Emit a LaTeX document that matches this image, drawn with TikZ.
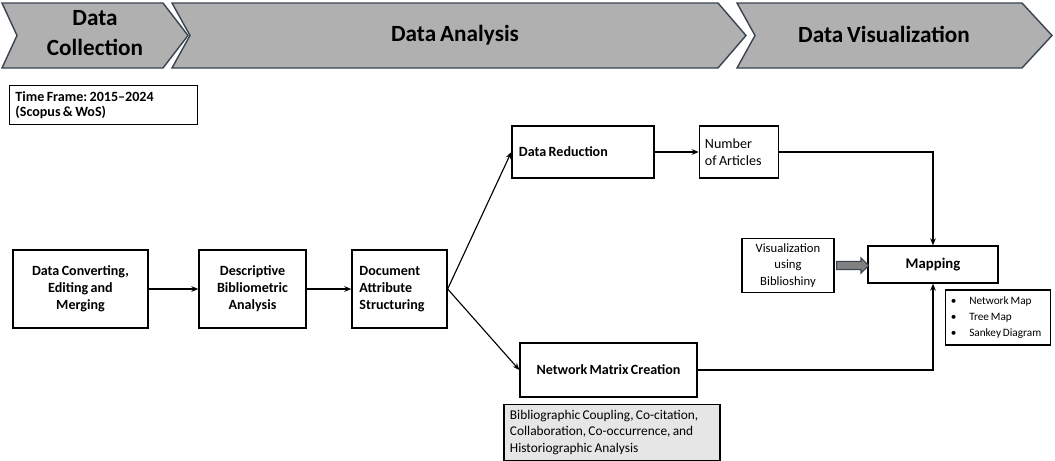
\documentclass[tikz,border=0pt]{standalone}
\usepackage{fontspec}
\setmainfont{Carlito}[WordSpace=0.75]
\usetikzlibrary{arrows.meta,shapes.arrows}
\definecolor{bannergray}{HTML}{B0B0B0}
\definecolor{bannerline}{HTML}{3A4450}
\definecolor{notegray}{HTML}{E6E6E6}
\tikzset{
  box/.style={draw, line width=0.9pt, align=center, inner sep=4pt},
  lbox/.style={box, align=left, execute at begin node={\frenchspacing\spaceskip=\fontdimen2\font\relax}},
  banner/.style={fill=bannergray, draw=bannerline, line width=1pt},
  flow/.style={line width=0.8pt, -{Stealth[length=5pt,width=4pt]}},
}
\begin{document}
\begin{tikzpicture}[x=0.025cm,y=-0.025cm]
\useasboundingbox (0,0) rectangle (1055,461);
% phase banners
\draw[banner] (2,3) -- (163,3) -- (188,35.5) -- (163,68) -- (2,68) -- (17,35.5) -- cycle;
\draw[banner] (172,3) -- (718,3) -- (746,35.5) -- (718,68) -- (172,68) -- (190,35.5) -- cycle;
\draw[banner] (737,3) -- (1022,3) -- (1052,35.5) -- (1022,68) -- (737,68) -- (755,35.5) -- cycle;
\node[align=center, font=\fontsize{16.5}{21}\selectfont\bfseries] (collect) at (95,33) {Data\\Collection};
\node[font=\fontsize{16.5}{20}\selectfont\bfseries] (analysis) at (455,35) {Data Analysis};
\node[font=\fontsize{16.5}{20}\selectfont\bfseries] (visual) at (884,34) {Data Visualization};
% notes
\node[lbox, minimum width=4.675cm, minimum height=0.85cm, text width=4.4cm,
  font=\fontsize{10}{11}\selectfont\bfseries] (time) at (103.5,105) {Time Frame: 2015--2024\\(Scopus \& WoS)};
% main flow
\node[box, minimum width=3.375cm, minimum height=1.95cm, font=\fontsize{10}{12}\selectfont\bfseries] (conv) at (80.5,289) {Data Converting,\\Editing and\\Merging};
\node[box, minimum width=2.675cm, minimum height=1.95cm, font=\fontsize{10}{12}\selectfont\bfseries] (desc) at (252.5,289) {Descriptive\\Bibliometric\\Analysis};
\node[lbox, minimum width=2.375cm, minimum height=1.95cm, text width=2.0cm, font=\fontsize{10}{12}\selectfont\bfseries] (doc) at (399.5,289) {Document\\Attribute\\Structuring};
\node[lbox, minimum width=3.55cm, minimum height=1.3cm, text width=3.2cm, font=\fontsize{10}{12}\selectfont\bfseries] (red) at (583,152) {Data Reduction};
\node[lbox, minimum width=1.95cm, minimum height=1.3cm, text width=1.7cm, font=\fontsize{10}{12}\selectfont] (art) at (739,152) {Number\\of Articles};
\node[box, minimum width=4.425cm, minimum height=1.35cm, font=\fontsize{10}{12}\selectfont\bfseries] (net) at (608.5,370) {Network Matrix Creation};
\node[lbox, fill=notegray, minimum width=5.4cm, minimum height=1.375cm, text width=5.1cm, font=\fontsize{9.5}{12}\selectfont] (grey) at (612,432.5) {Bibliographic Coupling, Co-citation,\\Collaboration, Co-occurrence, and\\Historiographic Analysis};
\node[box, minimum width=2.3cm, minimum height=1.225cm, font=\fontsize{9}{11.5}\selectfont] (vis) at (788,265.5) {Visualization\\using\\Biblioshiny};
\node[box, minimum width=3.25cm, minimum height=0.925cm, font=\fontsize{10.5}{12}\selectfont\bfseries] (map) at (933,264.5) {Mapping};
\node[lbox, minimum width=2.6cm, minimum height=1.375cm, text width=2.35cm, font=\fontsize{8}{11.5}\selectfont] (bul) at (998,317.5) {\textbullet\hspace{9pt}Network Map\\\textbullet\hspace{9pt}Tree Map\\\textbullet\hspace{9pt}Sankey Diagram};
% connectors
\draw[flow] (conv) -- (desc);
\draw[flow] (desc) -- (doc);
\draw[flow] (doc.east) -- (red.west);
\draw[flow] (doc.east) -- (net.west);
\draw[flow] (red) -- (art);
\draw[flow] (art.east) -| (map.north);
\draw[flow] (net.east) -| (map.south);
\node[single arrow, draw=bannerline, fill=gray, line width=0.8pt, minimum height=0.8cm,
  single arrow head extend=2.5pt, inner sep=2.5pt, anchor=tail] (big) at ([xshift=1pt]vis.east) {};
\end{tikzpicture}
\end{document}
